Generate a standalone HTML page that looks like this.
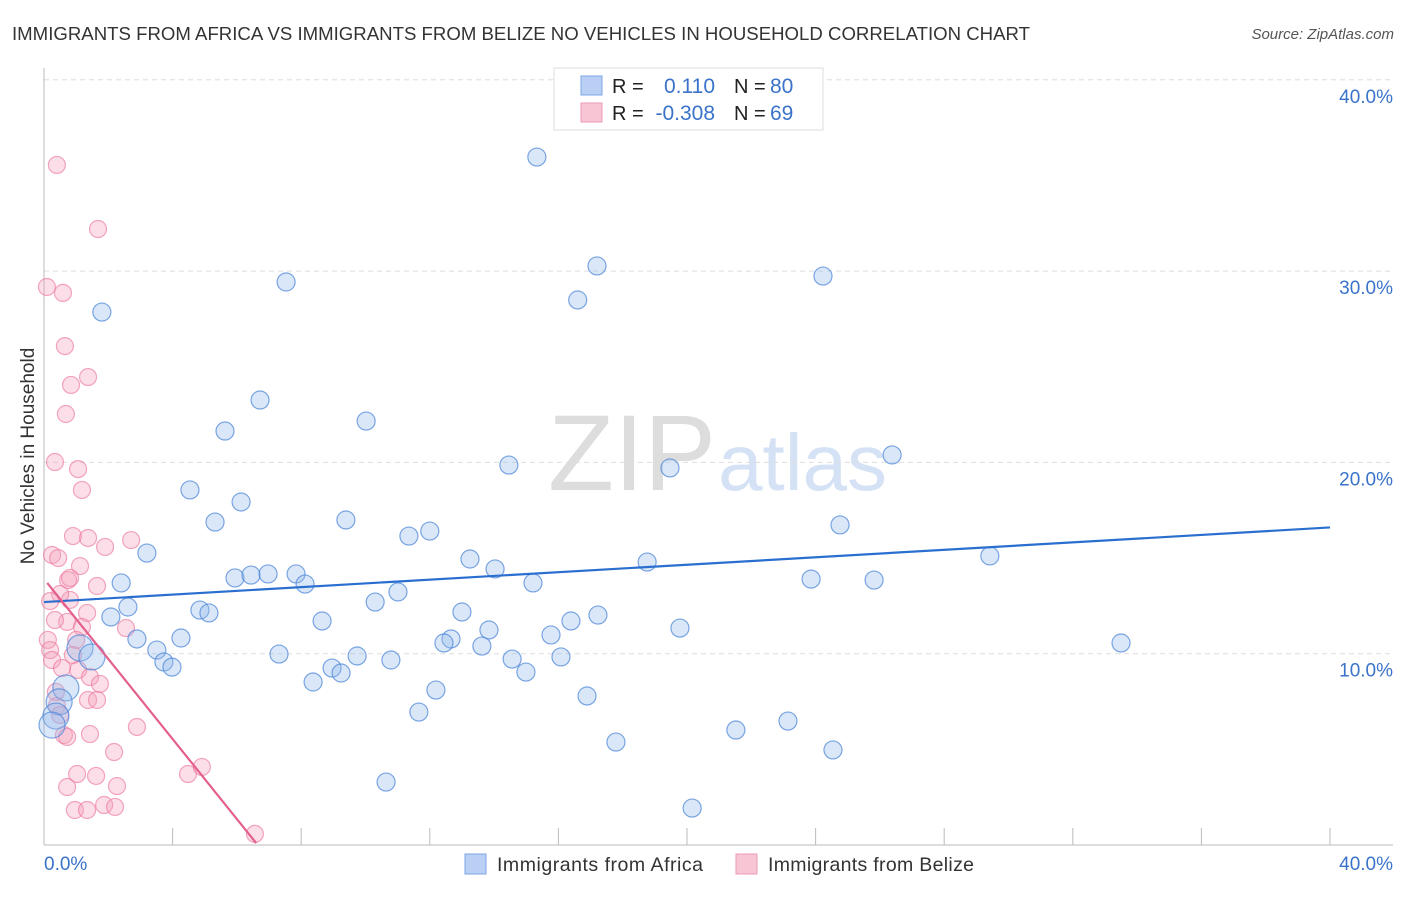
<!DOCTYPE html>
<html><head><meta charset="utf-8"><style>
body{margin:0;background:#fff;font-family:"Liberation Sans",sans-serif;}
svg text{font-family:"Liberation Sans",sans-serif;}
</style></head><body>
<svg id="chart" width="1406" height="892">
<text x="12" y="40" font-size="18.6" fill="#333" textLength="1018">IMMIGRANTS FROM AFRICA VS IMMIGRANTS FROM BELIZE NO VEHICLES IN HOUSEHOLD CORRELATION CHART</text>
<text x="1394" y="39" font-size="15" fill="#555" font-style="italic" text-anchor="end">Source: ZipAtlas.com</text>
<text transform="translate(34,456) rotate(-90)" font-size="19" fill="#333" text-anchor="middle">No Vehicles in Household</text>
<text x="716" y="490" font-size="108" fill="#ddd" font-family="Liberation Serif,serif" text-anchor="end">ZIP</text>
<text x="718" y="490" font-size="80" fill="#d5e2f5">atlas</text>
<g id="grid"></g><g id="axes"></g><g id="marks"></g><g id="lines"></g>
<g>
<rect x="554" y="68" width="269" height="62" fill="#fff" stroke="#ddd"/>
<rect x="581" y="76" width="21" height="19" fill="#b9d0f4" stroke="#7ea6e6"/>
<rect x="581" y="103" width="21" height="19" fill="#f8c5d5" stroke="#ec9ab4"/>
<text x="612" y="93" font-size="20" fill="#222">R =</text><text x="715" y="93" font-size="21" fill="#3a73c9" text-anchor="end">0.110</text>
<text x="734" y="93" font-size="20" fill="#222">N =</text><text x="770" y="93" font-size="21" fill="#3a73c9">80</text>
<text x="612" y="120" font-size="20" fill="#222">R =</text><text x="715" y="120" font-size="21" fill="#3a73c9" text-anchor="end">-0.308</text>
<text x="734" y="120" font-size="20" fill="#222">N =</text><text x="770" y="120" font-size="21" fill="#3a73c9">69</text>
</g>
<g>
<rect x="465" y="854" width="21" height="20" fill="#b9d0f4" stroke="#7ea6e6"/>
<text x="497" y="871" font-size="19.5" fill="#333" textLength="206">Immigrants from Africa</text>
<rect x="736" y="854" width="21" height="20" fill="#f8c5d5" stroke="#ec9ab4"/>
<text x="768" y="871" font-size="19.5" fill="#333" textLength="206">Immigrants from Belize</text>
</g>
</svg>
<script>
const yTicks=[10,20,30,40];
const yTickLabels=["10.0%","20.0%","30.0%","40.0%"];
const xTickVals=[0,4,8,12,16,20,24,28,32,36,40];
const africaX=[15.33,17.2,16.6,24.23,7.53,1.8,6.72,10.02,5.63,14.46,19.47,26.38,4.54,6.13,5.32,9.39,24.76,11.35,12.0,3.2,13.25,18.76,14.03,29.42,2.4,5.94,6.44,6.97,7.84,8.12,15.21,23.86,25.82,11.01,10.3,2.61,4.85,5.13,13.0,17.23,16.39,2.08,8.65,13.84,19.78,2.89,4.26,15.77,12.66,12.44,13.62,1.12,1.49,3.51,3.73,3.98,7.31,9.74,10.79,14.56,16.08,33.5,8.96,9.24,14.99,8.37,12.19,16.89,0.68,0.47,0.37,0.25,11.66,23.14,21.52,17.79,24.54,10.64,20.16];
const africaY=[35.96,30.27,28.49,29.74,29.43,27.86,23.26,22.16,21.64,19.86,19.71,20.39,18.56,17.93,16.88,16.99,16.73,16.15,16.41,15.26,14.95,14.79,14.43,15.11,13.7,13.96,14.11,14.17,14.17,13.64,13.7,13.9,13.85,13.23,12.7,12.44,12.28,12.13,12.18,12.02,11.71,11.92,11.71,11.24,11.34,10.77,10.82,10.98,10.77,10.56,10.4,10.3,9.83,10.19,9.57,9.3,9.98,9.88,9.67,9.72,9.83,10.56,9.25,8.99,9.04,8.52,8.1,7.79,8.21,7.48,6.74,6.27,6.95,6.48,6.01,5.38,4.97,3.29,1.93];
const belizeX=[0.4,1.68,0.09,0.59,0.65,1.37,0.84,0.68,0.34,1.06,1.18,0.9,1.37,2.71,1.9,0.25,0.44,0.75,1.12,1.65,0.81,0.5,0.19,1.34,0.72,1.18,2.55,1.0,0.12,0.19,0.25,0.9,1.06,1.43,1.74,1.37,1.65,0.4,0.5,0.62,0.72,1.43,2.18,2.89,1.03,1.62,0.72,2.27,1.87,2.21,0.96,1.34,4.48,4.91,6.56,0.37,0.56,0.34,0.81];
const belizeY=[35.55,32.2,29.17,28.86,26.08,24.46,24.05,22.53,20.02,19.65,18.56,16.15,16.05,15.94,15.58,15.16,15.0,13.85,14.58,13.54,12.81,13.12,12.75,12.13,11.66,11.4,11.34,10.72,10.72,10.19,9.67,9.93,9.15,8.78,8.42,7.58,7.58,7.27,6.8,5.75,5.65,5.8,4.86,6.17,3.71,3.61,3.03,3.08,2.09,1.99,1.83,1.83,3.71,4.08,0.58,8.0,9.25,11.76,13.96];
const africaTrend=[0,12.7,40,16.6];
const belizeTrend=[0.1,13.7,6.6,0.1];
const NS="http://www.w3.org/2000/svg";
const X=v=>44+v*32.15, Y=v=>845-v*19.13;
function mk(tag,attrs,parent){const e=document.createElementNS(NS,tag);for(const k in attrs)e.setAttribute(k,attrs[k]);document.getElementById(parent).appendChild(e);return e;}
yTicks.forEach((t,i)=>{
  const g=mk('line',{x1:44,x2:1393,y1:Y(t),y2:Y(t),stroke:'#ddd','stroke-dasharray':'5,4'},'grid');
  
  
  const l=mk('text',{x:1393,y:Y(t)+23,'font-size':19,fill:'#3a73c9','text-anchor':'end'},'grid');
  l.textContent=yTickLabels[i];
  
  
});
mk('line',{x1:44,x2:44,y1:68,y2:845,stroke:'#bbb'},'axes');
mk('line',{x1:44,x2:1393,y1:845,y2:845,stroke:'#bbb'},'axes');
xTickVals.forEach(t=>{const e=mk('line',{x1:X(t),x2:X(t),y1:828,y2:845,stroke:'#bbb'},'axes');
  
  });
let a=mk('text',{x:44,y:870,'font-size':19,fill:'#3a73c9'},'axes');a.textContent='0.0%';


a=mk('text',{x:1393,y:870,'font-size':19,fill:'#3a73c9','text-anchor':'end'},'axes');a.textContent='40.0%';


belizeX.forEach((x,i)=>{const c=mk('circle',{cx:X(x),cy:Y(belizeY[i]),r:8.5,fill:'rgba(244,160,187,0.35)',stroke:'rgba(236,120,158,0.65)','stroke-width':1.2},'marks');
  
  });
africaX.forEach((x,i)=>{const c=mk('circle',{cx:X(x),cy:Y(africaY[i]),r:(x<1.6&&africaY[i]<11)?13:9,fill:'rgba(150,185,235,0.35)',stroke:'rgba(70,130,215,0.7)','stroke-width':1.2},'marks');
  
  });
let t1=mk('line',{x1:X(africaTrend[0]),y1:Y(africaTrend[1]),x2:X(africaTrend[2]),y2:Y(africaTrend[3]),stroke:'#2a6fd0','stroke-width':2.2},'lines');


let t2=mk('line',{x1:X(belizeTrend[0]),y1:Y(belizeTrend[1]),x2:X(belizeTrend[2]),y2:Y(belizeTrend[3]),stroke:'#e4608c','stroke-width':2.2},'lines');


</script>
</body></html>
